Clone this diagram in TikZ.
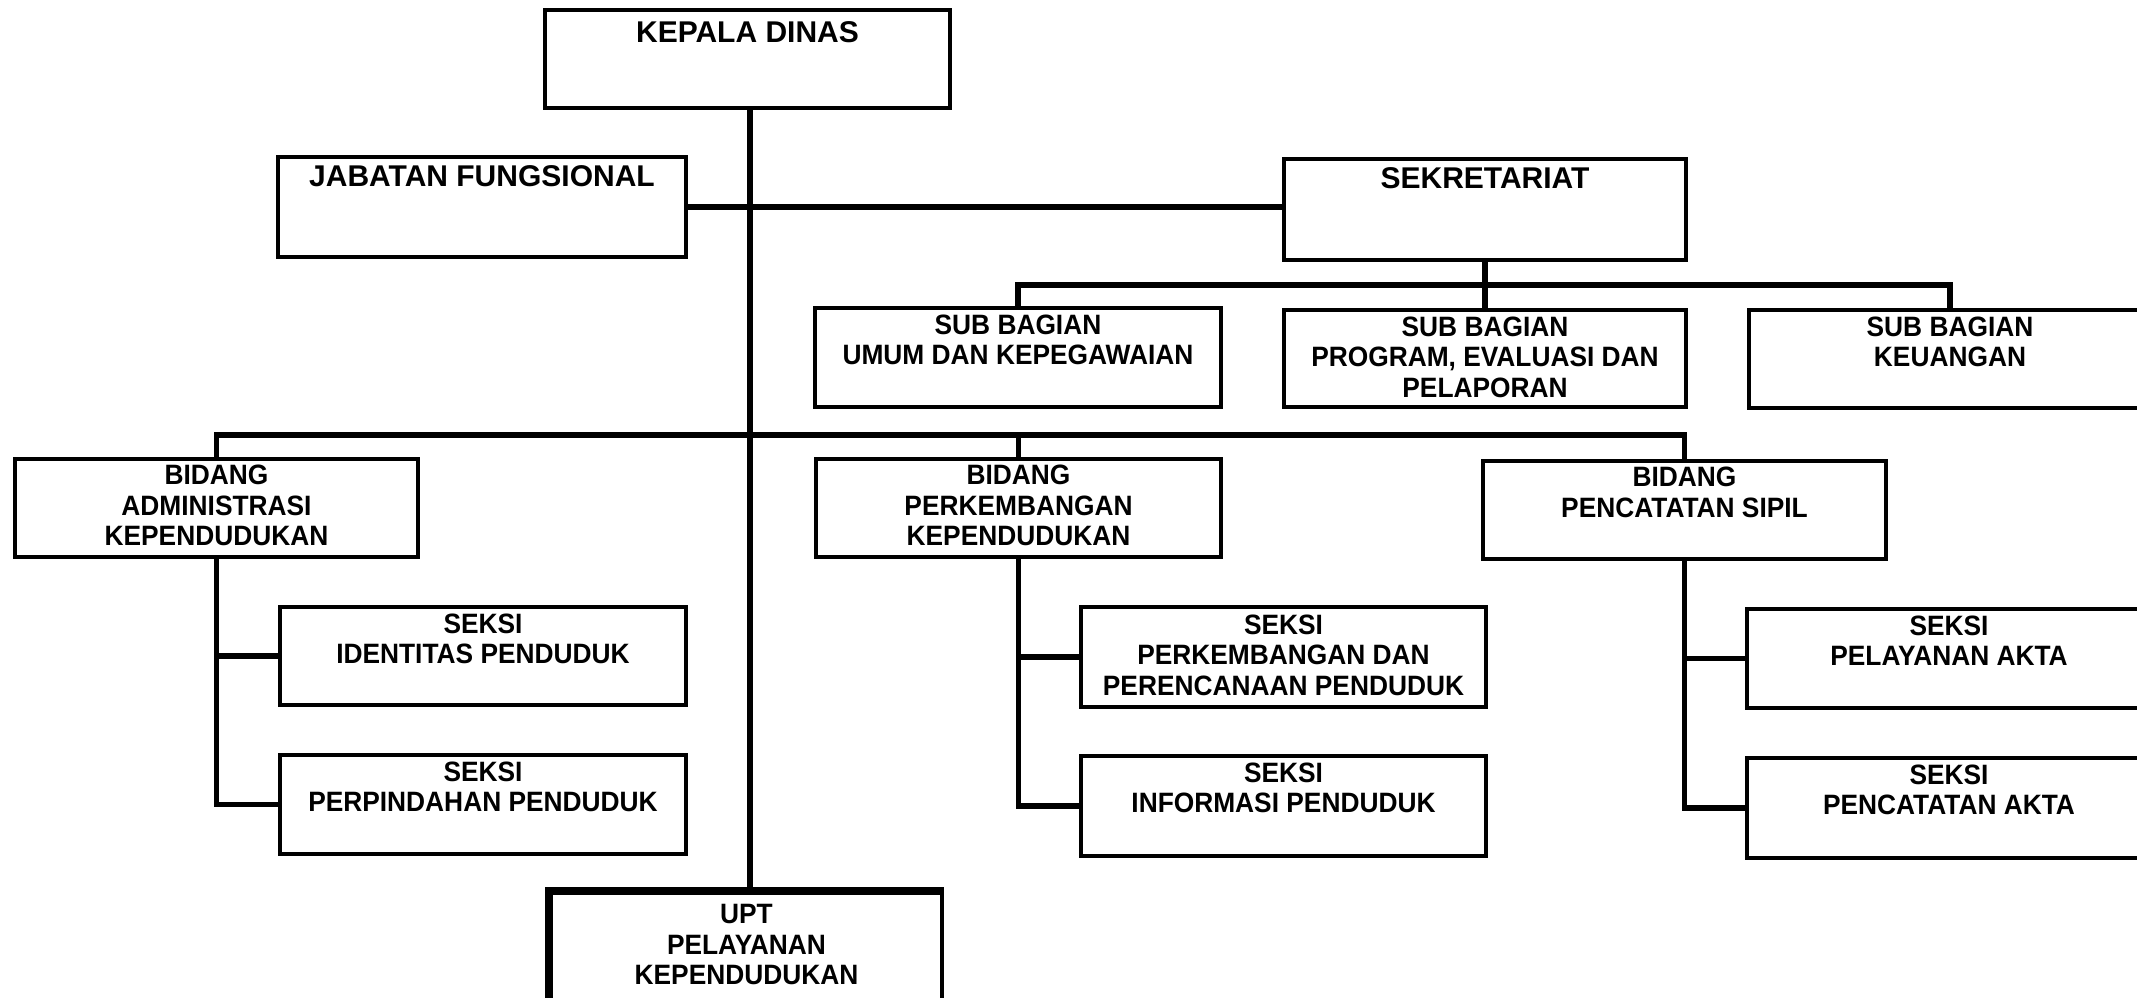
\documentclass[tikz,border=0pt]{standalone}
\usepackage{fontspec}
\setmainfont{Liberation Sans}
\newfontfamily\narrowfont{Liberation Sans}[FakeStretch=0.94]
\usetikzlibrary{fit}
\begin{document}
\begin{tikzpicture}[x=0.5pt,y=-0.5pt,
  box/.style={draw, line width=1.75pt, inner sep=0pt},
  conn/.style={draw, line width=2.75pt, line join=miter},
  body/.style={font=\narrowfont\fontsize{14}{15.2}\selectfont\bfseries, align=center, inner sep=0pt, anchor=north},
  head/.style={font=\fontsize{15}{17}\selectfont\bfseries, align=center, inner sep=0pt, anchor=north}]
\useasboundingbox (0,0) rectangle (2137,997);
\clip (0,0) rectangle (2137,997);
\fill[white] (0,0) rectangle (2137,997);

% boxes
\node[box, fit={(545,10)(950,108)}] (kepala) {};
\node[box, fit={(278,157)(686,257)}] (jabatan) {};
\node[box, fit={(1284,159)(1686,260)}] (sekretariat) {};
\node[box, fit={(815,308)(1221,407)}] (sbumum) {};
\node[box, fit={(1284,310)(1686,407)}] (sbprog) {};
\node[box, fit={(1749,310)(2151,408)}] (sbkeu) {};
\node[box, fit={(15,459)(418,557)}] (bdadm) {};
\node[box, fit={(816,459)(1221,557)}] (bdperk) {};
\node[box, fit={(1483,461)(1886,559)}] (bdsipil) {};
\node[box, fit={(280,607)(686,705)}] (skident) {};
\node[box, fit={(280,755)(686,854)}] (skpind) {};
\node[box, fit={(1081,607)(1486,707)}] (skperk) {};
\node[box, fit={(1081,756)(1486,856)}] (skinfo) {};
\node[box, fit={(1747,609)(2151,708)}] (skpel) {};
\node[box, fit={(1747,758)(2151,858)}] (skcat) {};
\node[box, fit={(551,893)(942,1010)}] (upt) {};
\draw[line width=4pt] (upt.south west) -- (upt.north west) -- (upt.north east);

% texts
\node[head] (kepala-t) at ([yshift=-6.5pt]kepala.north) {KEPALA DINAS};
\node[head] (jabatan-t) at ([yshift=-5pt]jabatan.north) {JABATAN FUNGSIONAL};
\node[head] (sekretariat-t) at ([yshift=-5pt]sekretariat.north) {SEKRETARIAT};
\node[body] (sbumum-t) at ([yshift=-4pt]sbumum.north) {SUB BAGIAN\\UMUM DAN KEPEGAWAIAN};
\node[body] (sbprog-t) at ([yshift=-4pt]sbprog.north) {SUB BAGIAN\\PROGRAM, EVALUASI DAN\\PELAPORAN};
\node[body] (sbkeu-t) at ([yshift=-4pt]sbkeu.north) {SUB BAGIAN\\KEUANGAN};
\node[body] (bdadm-t) at ([yshift=-3.75pt]bdadm.north) {BIDANG\\ADMINISTRASI\\KEPENDUDUKAN};
\node[body] (bdperk-t) at ([yshift=-3.75pt]bdperk.north) {BIDANG\\PERKEMBANGAN\\KEPENDUDUKAN};
\node[body] (bdsipil-t) at ([yshift=-3.75pt]bdsipil.north) {BIDANG\\PENCATATAN SIPIL};
\node[body] (skident-t) at ([yshift=-4pt]skident.north) {SEKSI\\IDENTITAS PENDUDUK};
\node[body] (skpind-t) at ([yshift=-4pt]skpind.north) {SEKSI\\PERPINDAHAN PENDUDUK};
\node[body] (skperk-t) at ([yshift=-4.5pt]skperk.north) {SEKSI\\PERKEMBANGAN DAN\\PERENCANAAN PENDUDUK};
\node[body] (skinfo-t) at ([yshift=-4pt]skinfo.north) {SEKSI\\INFORMASI PENDUDUK};
\node[body] (skpel-t) at ([yshift=-4pt]skpel.north) {SEKSI\\PELAYANAN AKTA};
\node[body] (skcat-t) at ([yshift=-4pt]skcat.north) {SEKSI\\PENCATATAN AKTA};
\node[body] (upt-t) at ([yshift=-6.5pt]upt.north) {UPT\\PELAYANAN\\KEPENDUDUKAN};

% connectors
\coordinate (trunk) at (750,0);
\coordinate (sbus) at (0,285);
\coordinate (mbus) at (0,435);
\draw[conn] (kepala.south -| trunk) -- (upt.north -| trunk);
\draw[conn] (jabatan.east) -- (sekretariat.west |- jabatan.east);
\draw[conn] (sekretariat.south) -- (sbprog.north -| sekretariat.south);
\draw[conn] (sbumum.north) |- (sbkeu.north |- sbus) -- (sbkeu.north);
\draw[conn] (bdadm.north) |- (bdsipil.north |- mbus) -- (bdsipil.north);
\draw[conn] (bdperk.north |- mbus) -- (bdperk.north);
\draw[conn] (bdadm.south) |- (skpind.west);
\draw[conn] (bdadm.south |- skident.west) -- (skident.west);
\draw[conn] (bdperk.south) |- (skinfo.west);
\draw[conn] (bdperk.south |- skperk.west) -- (skperk.west);
\draw[conn] (bdsipil.south) |- (skcat.west);
\draw[conn] (bdsipil.south |- skpel.west) -- (skpel.west);
\end{tikzpicture}
\end{document}
